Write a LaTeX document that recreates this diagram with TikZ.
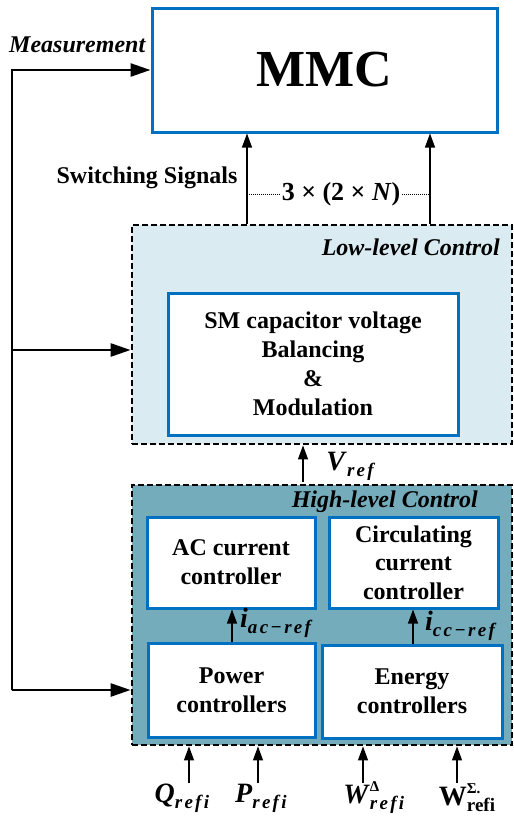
\documentclass[tikz,border=0pt]{standalone}
\usepackage{fontspec}
\setmainfont{Liberation Serif}
\usetikzlibrary{arrows.meta}
\definecolor{mblue}{RGB}{0,112,192}
\definecolor{lowfill}{RGB}{218,236,242}
\definecolor{highfill}{RGB}{116,172,188}
\newcommand{\bi}[1]{\textbf{\textit{#1}}}
\newcommand{\sbs}[1]{\raisebox{-6pt}{\fontsize{19}{19}\selectfont\addfontfeature{LetterSpace=12}\bi{#1}}}
\newcommand{\sbu}[1]{\raisebox{-6pt}{\fontsize{19}{19}\selectfont\textbf{#1}}}
\begin{document}
\begin{tikzpicture}[x=1pt,y=-1pt,
  blk/.style={draw=mblue,line width=3pt,fill=white,inner sep=0pt,align=center,
    font=\fontsize{24}{29}\selectfont\bfseries},
  grp/.style={draw=black,line width=2.8pt,dash pattern=on 6pt off 3pt,inner sep=0pt},
  meas/.style={line width=2.6pt,-{Triangle[length=20pt,width=13pt]}},
  sig/.style={line width=1.2pt,-{Triangle[length=14pt,width=10pt]}},
  lbl/.style={inner sep=0pt,font=\fontsize{24}{24}\selectfont\bfseries},
  ilbl/.style={inner sep=0pt,font=\fontsize{24}{24}\selectfont\bfseries\itshape},
  mlbl/.style={inner sep=0pt,font=\fontsize{28}{28}\selectfont\bfseries}]
\useasboundingbox (0,0) rectangle (514,817);
% groups
\node[grp,fill=lowfill,minimum width=380pt,minimum height=219pt] (low) at (322,334.5) {};
\node[grp,fill=highfill,minimum width=380pt,minimum height=260pt] (high) at (322,615) {};
% blocks
\node[blk,minimum width=345pt,minimum height=124pt,font=\fontsize{52}{52}\selectfont\bfseries] (mmc) at (324.5,70) {MMC};
\node[blk,minimum width=290pt,minimum height=142pt] (sm) at (313,364) {SM capacitor voltage\\Balancing\\\&\\Modulation};
\node[blk,minimum width=168pt,minimum height=91pt] (ac) at (231,562.5) {AC current\\controller};
\node[blk,minimum width=169pt,minimum height=91pt,font=\fontsize{24}{28.5}\selectfont\bfseries] (cc) at (413.5,562.5) {Circulating\\current\\controller};
\node[blk,minimum width=167pt,minimum height=94pt] (pw) at (231.5,690) {Power\\controllers};
\node[blk,minimum width=180pt,minimum height=93pt] (en) at (412,691.5) {Energy\\controllers};
% group labels
\node[ilbl,anchor=east] (lowl) at (500,247) {Low-level Control};
\node[ilbl,anchor=east] (highl) at (478,502) {High-level Control};
% measurement
\node[ilbl,anchor=west] (meast) at (9,45) {Measurement};
\coordinate (c0) at (12,690);
\coordinate (c1) at (12,70);
\coordinate (c2) at (12,350);
\draw[meas] (c0) -- (c1) -- (mmc.west);
\draw[meas] (c2) -- (low.west |- c2);
\draw[meas] (c0) -- (low.west |- c0);
% switching signals
\coordinate (s1) at (247,224);
\coordinate (s2) at (430,224);
\draw[sig] (s1) -- (s1 |- mmc.south);
\draw[sig] (s2) -- (s2 |- mmc.south);
\node[lbl] (sw) at (147,178) {Switching Signals};
\node[mlbl,fill=lowfill!0,fill opacity=0,text opacity=1,font=\fontsize{26}{26}\selectfont\bfseries] (nn) at (341,194) {3 × (2 × \textit{N})};
\draw[densely dotted,line width=1pt] (s1 |- nn) -- ([xshift=-2pt]nn.west);
\draw[densely dotted,line width=1pt] ([xshift=2pt]nn.east) -- (s2 |- nn);
% Vref
\coordinate (v1) at (303,482);
\draw[sig] (v1) -- (v1 |- low.south);
\node[mlbl] (vref) at (352,466) {\bi{V}\sbs{ref}};
% internal
\coordinate (a1) at (232,642);
\draw[sig] (a1) -- (a1 |- ac.south);
\node[mlbl,anchor=west] (iac) at (240,623) {\bi{i}\sbs{ac\symbol{"2212}ref}};
\coordinate (a2) at (413,644);
\draw[sig] (a2) -- (a2 |- cc.south);
\node[mlbl,anchor=west] (icc) at (425,626) {\bi{i}\sbs{cc\symbol{"2212}ref}};
% inputs
\coordinate (q) at (189,783);
\coordinate (p) at (258,783);
\coordinate (wd) at (363,783);
\coordinate (ws) at (457,783);
\draw[sig] (q) -- (q |- high.south);
\draw[sig] (p) -- (p |- high.south);
\draw[sig] (wd) -- (wd |- high.south);
\draw[sig] (ws) -- (ws |- high.south);
\node[mlbl] (ql) at (183,798) {\bi{Q}\sbs{refi}};
\node[mlbl] (pl) at (262,798) {\bi{P}\sbs{refi}};
\node[mlbl] (wdl) at (375,798) {\bi{W}\rlap{\raisebox{12pt}{\fontsize{15}{15}\selectfont\textbf{Δ}}}\sbs{refi}};
\node[mlbl] (wsl) at (467,798) {\textbf{W}\rlap{\raisebox{12pt}{\fontsize{15}{15}\selectfont\textbf{Σ.}}}\sbu{refi}};
\end{tikzpicture}
\end{document}
